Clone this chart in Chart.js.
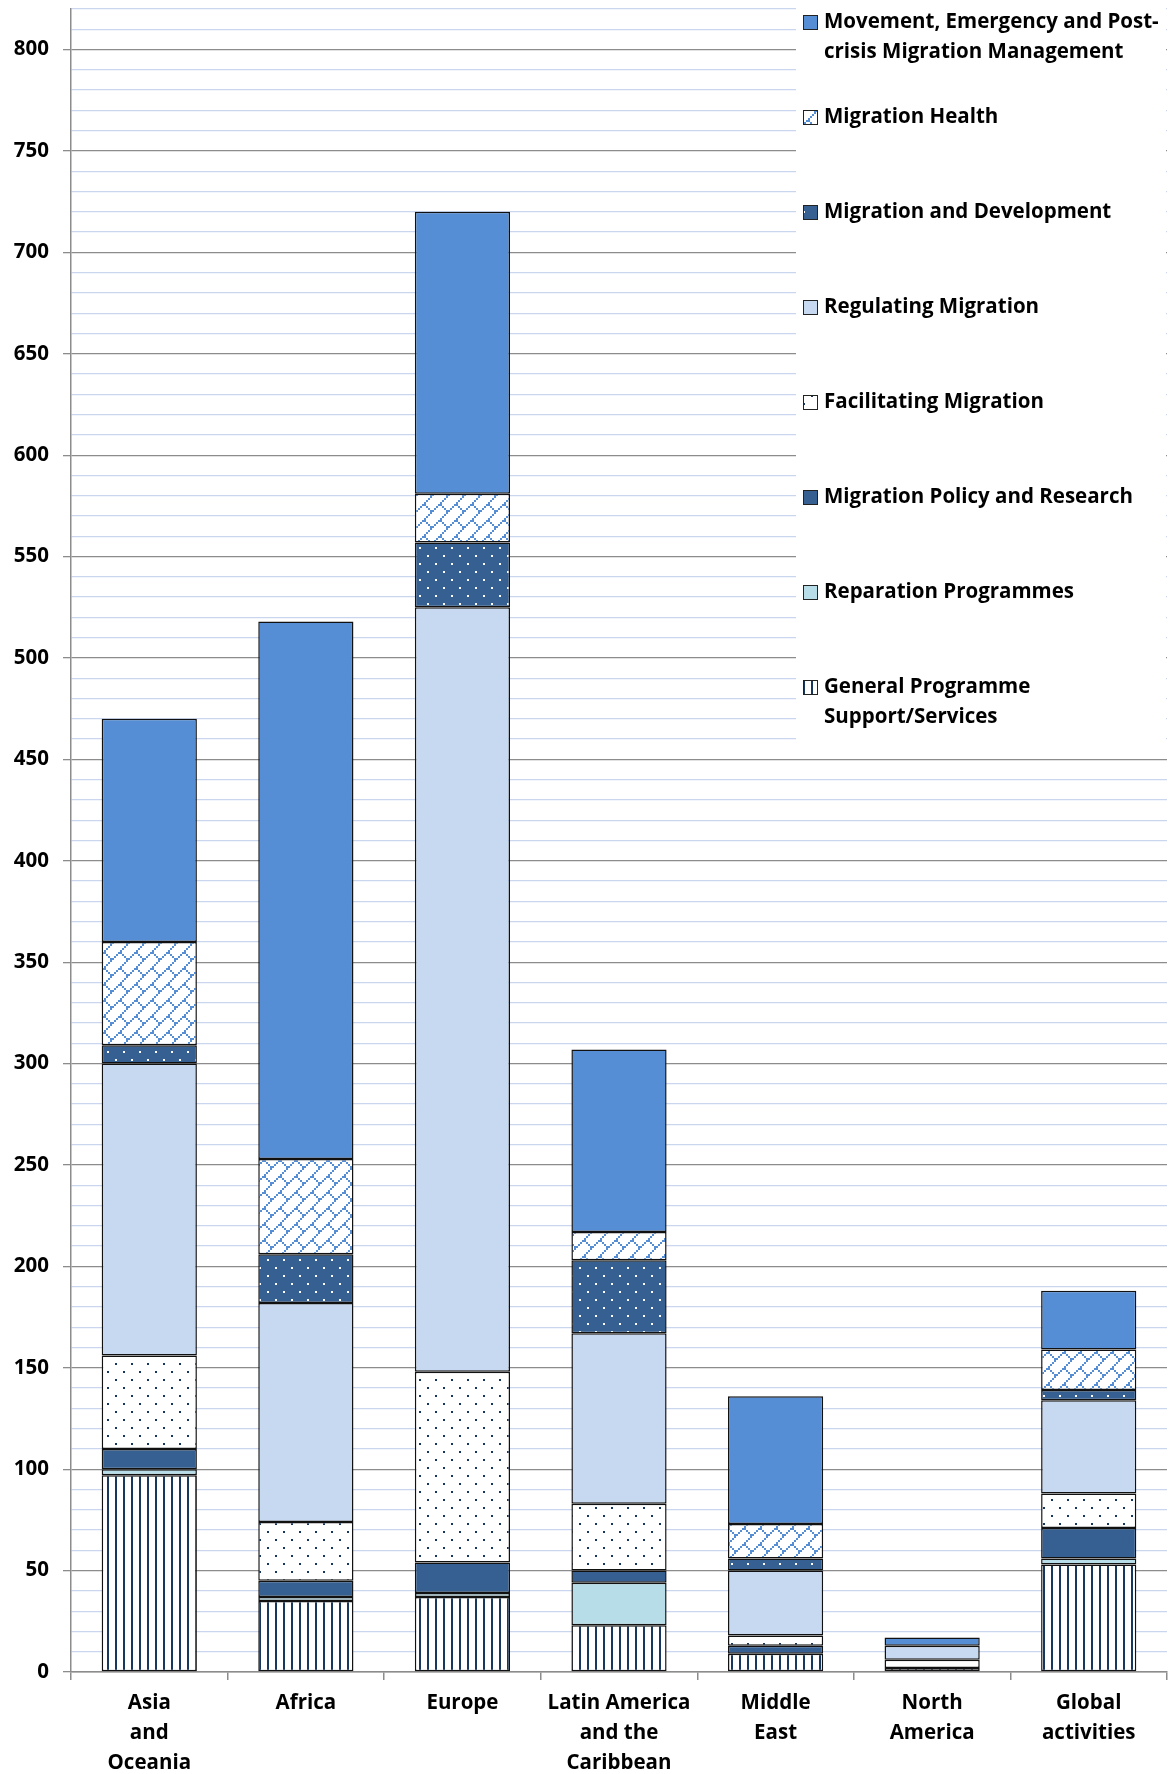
<!DOCTYPE html>
<html>
<head>
<meta charset="utf-8">
<script src="https://cdn.jsdelivr.net/npm/chart.js@4.4.0/dist/chart.umd.min.js"></script>
<style>
  html, body { margin: 0; padding: 0; background: #fff; }
  #chart { display: block; }
</style>
</head>
<body>
<canvas id="chart" width="1169" height="1774"></canvas>
<script>
// Expenditure by region and service area
const regions = [
  ["Asia", "and", "Oceania"], "Africa", "Europe",
  ["Latin America", "and the", "Caribbean"], ["Middle", "East"],
  ["North", "America"], ["Global", "activities"]
];

const generalSupport = [97, 35, 37, 23, 9, 2, 53];
const reparation     = [3, 2, 2, 21, 0, 0, 3];
const policyResearch = [10, 8, 15, 6, 4, 0, 15];
const facilitating   = [46, 29, 94, 33, 5, 4, 17];
const regulating     = [144, 108, 377, 84, 32, 7, 46];
const development    = [9, 24, 32, 36, 6, 0, 5];
const health         = [51, 47, 24, 14, 17, 0, 20];
const movement       = [110, 265, 139, 90, 63, 4, 29];

const yMax = 820;

const FONT = "'Open Sans', Lato, sans-serif";
const BLUE = "#558ed5";
const DARK = "#376092";
const NAVY = "#17375e";

function tile(w, h, paint) {
  const c = document.createElement("canvas");
  c.width = w; c.height = h;
  const g = c.getContext("2d");
  paint(g);
  return document.getElementById("chart").getContext("2d").createPattern(c, "repeat");
}

// sparse staggered dots, 16px across, rows every 8px
function dots(bg, fg) {
  return tile(16, 16, g => {
    g.fillStyle = bg; g.fillRect(0, 0, 16, 16);
    g.fillStyle = fg;
    g.fillRect(3, 3, 2, 2);
    g.fillRect(11, 11, 2, 2);
  });
}

const brick = tile(16, 16, g => {
  g.fillStyle = "#fff"; g.fillRect(0, 0, 16, 16);
  g.fillStyle = BLUE;
  for (let i = 0; i < 8; i++) g.fillRect(i * 2, (7 - i) * 2, 2, 2);
  for (let k = 4; k < 8; k++) g.fillRect(k * 2, k * 2, 2, 2);
});

const stripes = tile(8, 8, g => {
  g.fillStyle = "#fff"; g.fillRect(0, 0, 8, 8);
  g.fillStyle = NAVY; g.fillRect(3, 0, 2, 8);
});

const series = [
  { label: ["General Programme", "Support/Services"], data: generalSupport, fill: stripes },
  { label: ["Reparation Programmes"], data: reparation, fill: "#b7dee8" },
  { label: ["Migration Policy and Research"], data: policyResearch, fill: DARK },
  { label: ["Facilitating Migration"], data: facilitating, fill: dots("#fff", NAVY) },
  { label: ["Regulating Migration"], data: regulating, fill: "#c6d9f1" },
  { label: ["Migration and Development"], data: development, fill: dots(DARK, "#fff") },
  { label: ["Migration Health"], data: health, fill: brick },
  { label: ["Movement, Emergency and Post-", "crisis Migration Management"], data: movement, fill: BLUE }
];

// legend drawn over the top right of the plot, newest series first
const legendBox = {
  id: "legendBox",
  afterDraw(chart) {
    const ctx = chart.ctx;
    const area = chart.chartArea;
    const left = area.right - 371;
    const top = area.top;
    ctx.save();
    ctx.fillStyle = "#fff";
    ctx.fillRect(left, top - 1, 370, 740);
    ctx.font = "bold 20.5px " + FONT;
    ctx.textBaseline = "middle";
    const items = chart.data.datasets.slice().reverse();
    items.forEach((ds, i) => {
      const y = top + 13.5 + i * 95;
      ctx.fillStyle = ds.backgroundColor;
      ctx.fillRect(left + 7, y - 7.5, 15, 15);
      ctx.strokeStyle = "#222";
      ctx.lineWidth = 1;
      ctx.strokeRect(left + 7.5, y - 7, 14, 14);
      ctx.fillStyle = "#000";
      ds.label.forEach((line, j) => ctx.fillText(line, left + 28, y + j * 30));
    });
    ctx.restore();
  }
};

new Chart(document.getElementById("chart"), {
  type: "bar",
  data: {
    labels: regions,
    datasets: series.map(s => ({
      label: s.label,
      data: s.data,
      backgroundColor: s.fill,
      borderColor: "#111",
      borderWidth: 1.5,
      borderSkipped: false,
      categoryPercentage: 1,
      barPercentage: 0.608
    }))
  },
  options: {
    responsive: false,
    animation: false,
    devicePixelRatio: 1,
    layout: { padding: { top: 9, right: 2, left: 0, bottom: 0 } },
    plugins: { legend: { display: false }, tooltip: { enabled: false } },
    scales: {
      x: {
        stacked: true,
        grid: { drawOnChartArea: false, offset: true, tickLength: 8, color: "#8c8c8c", lineWidth: 1.5 },
        border: { color: "#8c8c8c", width: 1.5 },
        ticks: {
          color: "#000", maxRotation: 0, autoSkip: false, padding: 8,
          font: { family: FONT, size: 20.5, weight: "bold", lineHeight: 30 / 20.5 }
        },
        afterFit: s => { s.height = 102; s.paddingLeft = 0; s.paddingRight = 0; }
      },
      y: {
        stacked: true,
        min: 0,
        max: yMax,
        ticks: {
          stepSize: 10, autoSkip: false, color: "#000", padding: 14,
          callback: v => (v % 50 === 0 ? v : ""),
          font: { family: FONT, size: 20.5, weight: "bold" }
        },
        grid: {
          color: c => (c.tick.value % 50 === 0 ? "#8c8c8c" : "#c9d6ee"),
          tickColor: c => (c.tick.value % 50 === 0 ? "#8c8c8c" : "rgba(0,0,0,0)"),
          lineWidth: 1.3,
          tickLength: 8
        },
        border: { color: "#8c8c8c", width: 1.5 },
        afterFit: s => { s.width = 71; s.paddingTop = 0; s.paddingBottom = 0; }
      }
    }
  },
  plugins: [legendBox]
});
</script>
</body>
</html>
